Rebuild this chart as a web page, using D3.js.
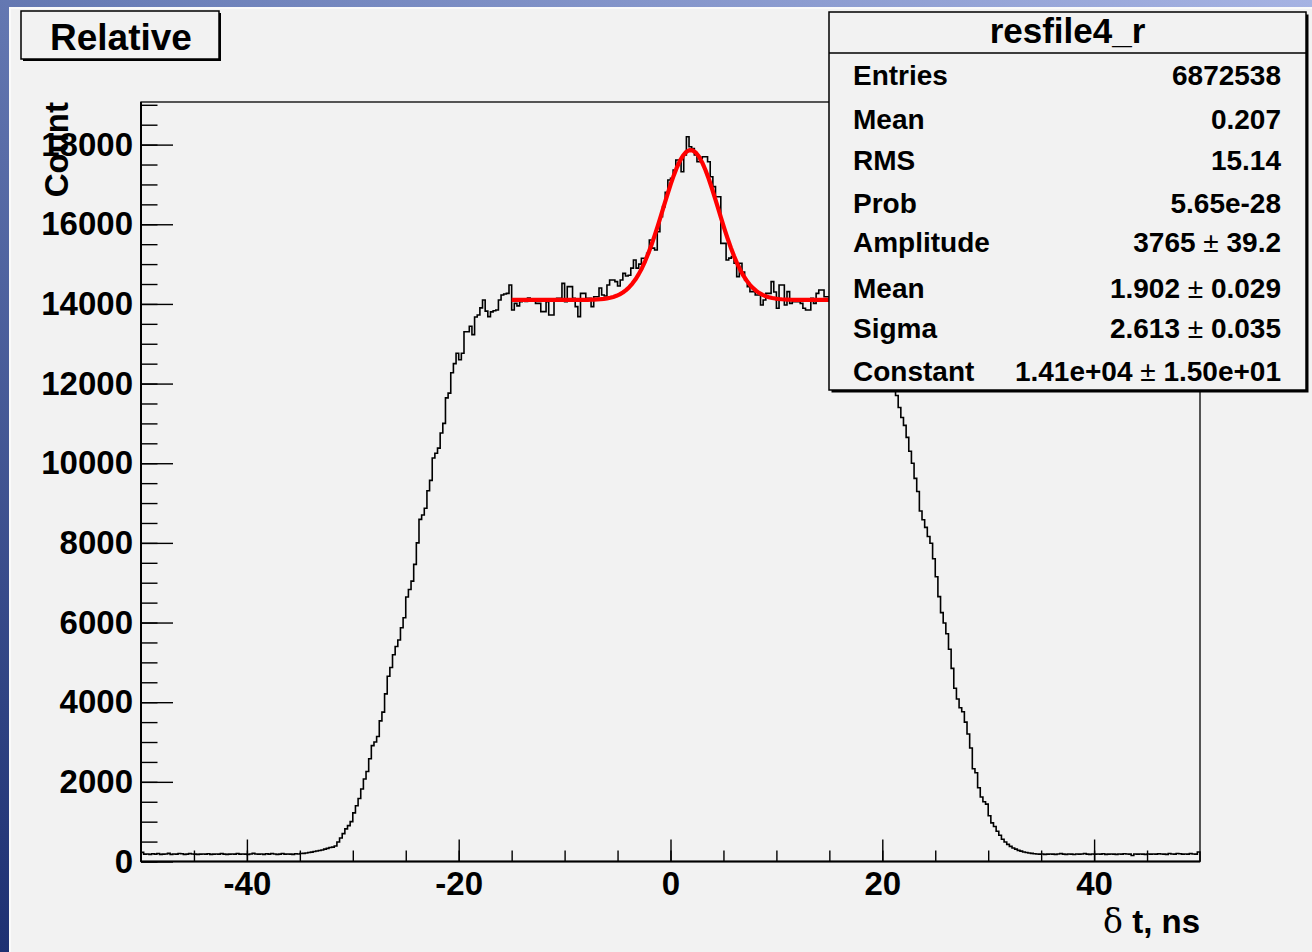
<!DOCTYPE html>
<html><head><meta charset="utf-8">
<script src="https://cdn.jsdelivr.net/npm/d3@7"></script>
<style>
html,body{margin:0;padding:0;background:#fff;}
svg text{font-family:"Liberation Sans",Arial,Helvetica,sans-serif;}
</style></head>
<body>
<svg id="chart" width="1312" height="952"></svg>
<script>
// ---------------- data ----------------
const xDomain = [-50, 50];
const yAxisMax = 19070;
// histogram bin contents (400 bins of 0.25 ns from -50 to 50)
const baselineLeft = [
230,185,190,180,195,185,200,180,185,190,
205,180,190,185,200,195,180,185,200,190,
185,180,185,190,185,195,180,185,190,185,
200,185,180,185,190,185,200,185,190,185,
180,190,205,190,185,190,180,195,185,200,
190,180,185,200,185,190,185,180,195,190];
const risingEdge = [
200,205,215,225,235,250,265,275,290,310,
330,350,360,390,490,590,700,820,900,1000,
1220,1400,1580,1820,2070,2260,2580,2910,3000,3140,
3530,3750,4210,4650,4870,5190,5400,5560,5870,6120,
6640,6830,7040,7460,8000,8590,8700,8870,9310,9570,
10130,10250,10380,10760,11000,11640,11760,12270,12500,12760,
12600,12760,13300,13300,13440,13230,13670,13720];
const plateauPeak = [
13900,14099,13820,13680,13800,13830,13848,14099,14224,14250,
14266,14475,13848,14015,13950,14057,14120,14060,14150,14080,
14130,14015,14015,13806,13806,14057,13722,13722,14100,14140,
14140,14517,14057,14434,14434,14140,13931,13680,14266,14266,
14140,14140,13931,14180,14180,14400,14224,14200,14475,14600,
14600,14560,14450,14600,14768,14700,14720,14900,15103,14900,
15000,15145,15145,15270,15605,15400,15354,15814,16191,16442,
16800,17111,17153,17362,17613,17613,17320,17739,18199,17948,
17900,17739,17571,17655,17697,17697,17571,17195,16944,16692,
16692,15521,15521,15103,15150,15187,15020,14685,15020,14800,
14601,14434,14308,14308,14224,14224,13973,14099,14266,14266,
14559,14300,13890,14475,14475,13973,14308,14015,14057,14057,
14057,14015,13890,13848,13848,14141,14015,14266,14350,14350,14180,14180];
const hiddenShoulder = [
14100,14250,13950,14150,14050,14200,14000,14150,13900,14100,
13950,13900,13750,13700,13600,13450,13450,13300,13150,12950,
12800,12600,12400,12200,11950];
const fallingEdge = [
11700,11400,11150,10950,10650,10300,10000,9620,9290,8800,
8580,8390,8160,7990,7600,7150,6650,6250,5990,5720,
5330,4850,4350,4080,3860,3760,3500,3200,2850,2330,
2230,1850,1620,1500,1440,1150,970,880,760,660,
560,490,430,380,340,310,280,260,240,225,
215,205];
const baselineRight = [
195,190,185,190,180,185,190,185,180,190,
200,185,180,190,185,175,190,185,190,200,
185,180,190,185,190,185,195,180,185,190,
185,180,190,185,195,190,185,150,190,185,
190,185,180,190,185,190,185,195,190,185,
180,200,190,185,200,195,185,190,185,200,
190,185,240];

// fit (gaus + constant) parameters as printed in the stats box
const fitRange = [-15, 15];
const fitAmplitude = 3765, fitMean = 1.902, fitSigma = 2.613, fitConstant = 14100;

// axis ticks
const xMajorTicks = [-40, -20, 0, 20, 40];
const xMinorTicks = d3.range(-45, 50, 5);
const yMajorTicks = [0,2000,4000,6000,8000,10000,12000,14000,16000,18000];
const yMinorTicks = d3.range(0, 19001, 500);

// stats box
const statsTitle = "resfile4_r";
const statLabels = ["Entries","Mean","RMS","Prob","Amplitude","Mean","Sigma","Constant"];
const statValues = ["6872538","0.207","15.14","5.65e-28",["3765","39.2"],["1.902","0.029"],["2.613","0.035"],["1.41e+04","1.50e+01"]];

// ---------------- drawing ----------------
const counts = [].concat(baselineLeft, risingEdge, plateauPeak, hiddenShoulder, fallingEdge, baselineRight);
const svg = d3.select("#chart");
const W = 1312, H = 952;
const L = 141, R = 1200, T = 102, B = 861.5;

// slide background gradient
const defs = svg.append("defs");
const g1 = defs.append("linearGradient").attr("id","bg").attr("x1","1").attr("y1","0").attr("x2","0").attr("y2","1");
g1.append("stop").attr("offset","0").attr("stop-color","#a6b3e3");
g1.append("stop").attr("offset","0.45").attr("stop-color","#6b7fb8");
g1.append("stop").attr("offset","1").attr("stop-color","#1d3072");
svg.append("rect").attr("width",W).attr("height",H).attr("fill","url(#bg)");
svg.append("rect").attr("x",9).attr("y",7).attr("width",W-9).attr("height",H-7).attr("fill","#fafafa");
svg.append("rect").attr("x",11).attr("y",9).attr("width",W-11).attr("height",H-9).attr("fill","#f2f2f2");

const x = d3.scaleLinear().domain(xDomain).range([L, R]);
const y = d3.scaleLinear().domain([0, yAxisMax]).range([B, T]);

// frame
svg.append("rect").attr("x",L).attr("y",T).attr("width",R-L).attr("height",B-T)
  .attr("fill","none").attr("stroke","#000").attr("stroke-width",1.3);

// histogram
const bw = (xDomain[1]-xDomain[0]) / counts.length;
const pts = [[xDomain[0], 0]];
counts.forEach((c,i) => { const lo = xDomain[0]+i*bw; pts.push([lo, c]); pts.push([lo+bw, c]); });
pts.push([xDomain[1], 0]);
svg.append("path").attr("d", d3.line().x(d=>x(d[0])).y(d=>y(d[1]))(pts))
  .attr("fill","none").attr("stroke","#000").attr("stroke-width",1.6);

// fit curve
const fx = d3.range(fitRange[0], fitRange[1]+1e-9, 0.3);
const fitPts = fx.map(v => [v, fitAmplitude*Math.exp(-0.5*Math.pow((v-fitMean)/fitSigma,2)) + fitConstant]);
svg.append("path").attr("d", d3.line().x(d=>x(d[0])).y(d=>y(d[1]))(fitPts))
  .attr("fill","none").attr("stroke","#ff0000").attr("stroke-width",4.2).attr("stroke-linejoin","round");

// axes
const fontAxis = 33;
const fmt = d => String(d);
const yMinorAxis = svg.append("g").attr("transform",`translate(${L},0)`)
  .call(d3.axisLeft(y).tickValues(yMinorTicks).tickSize(-16.5).tickFormat(""));
const yMajorAxis = svg.append("g").attr("transform",`translate(${L},0)`)
  .call(d3.axisLeft(y).tickValues(yMajorTicks).tickSize(-32).tickPadding(8).tickFormat(fmt));
const xMinorAxis = svg.append("g").attr("transform",`translate(0,${B})`)
  .call(d3.axisBottom(x).tickValues(xMinorTicks).tickSize(-11).tickFormat(""));
const xMajorAxis = svg.append("g").attr("transform",`translate(0,${B})`)
  .call(d3.axisBottom(x).tickValues(xMajorTicks).tickSize(-22).tickPadding(10).tickFormat(fmt));
[yMinorAxis,yMajorAxis,xMinorAxis,xMajorAxis].forEach(a => {
  a.select(".domain").remove();
  a.selectAll("line").attr("stroke","#000").attr("stroke-width",1.4);
  a.selectAll("text").attr("fill","#000").attr("font-size",fontAxis).attr("font-weight","bold")
    .attr("font-family",'"Liberation Sans",Arial,sans-serif');
});
svg.append("line").attr("x1",L).attr("x2",L).attr("y1",T).attr("y2",B).attr("stroke","#000").attr("stroke-width",2);
svg.append("line").attr("x1",L).attr("x2",R).attr("y1",B).attr("y2",B).attr("stroke","#000").attr("stroke-width",2);

// axis titles
const xt = svg.append("text").attr("x",R).attr("y",933).attr("text-anchor","end")
  .attr("font-size",fontAxis).attr("font-weight","bold").attr("fill","#000");
xt.append("tspan").attr("font-weight","normal").attr("font-family",'"DejaVu Serif","Liberation Serif",serif').text("δ");
xt.append("tspan").text(" t, ns");
svg.append("text").attr("transform",`translate(68,${T}) rotate(-90)`).attr("text-anchor","end")
  .attr("font-size",fontAxis).attr("font-weight","bold").attr("fill","#000").text("Count");

// title box "Relative"
svg.append("rect").attr("x",23).attr("y",13).attr("width",198).attr("height",48).attr("fill","#000");
svg.append("rect").attr("x",21).attr("y",11).attr("width",198).attr("height",48)
  .attr("fill","#f2f2f2").attr("stroke","#000").attr("stroke-width",1.5);
svg.append("text").attr("x",121).attr("y",50).attr("text-anchor","middle")
  .attr("font-size",37).attr("font-weight","bold").attr("fill","#000").text("Relative");

// stats box
const sx0 = 829, sy0 = 12, sx1 = 1306, sy1 = 390;
svg.append("rect").attr("x",sx0+2.5).attr("y",sy0+2.5).attr("width",sx1-sx0).attr("height",sy1-sy0).attr("fill","#000");
svg.append("rect").attr("x",sx0).attr("y",sy0).attr("width",sx1-sx0).attr("height",sy1-sy0)
  .attr("fill","#f2f2f2").attr("stroke","#000").attr("stroke-width",1.5);
svg.append("line").attr("x1",sx0).attr("x2",sx1).attr("y1",53).attr("y2",53).attr("stroke","#000").attr("stroke-width",1.5);
svg.append("text").attr("x",(sx0+sx1)/2).attr("y",43).attr("text-anchor","middle")
  .attr("font-size",35).attr("font-weight","bold").attr("fill","#000").text(statsTitle);
const rowBase = [85,129,170,213,252,298,338,381];
statLabels.forEach((lab,i) => {
  svg.append("text").attr("x",853).attr("y",rowBase[i]).attr("font-size",28).attr("font-weight","bold")
    .attr("fill","#000").text(lab);
  const t = svg.append("text").attr("x",1281).attr("y",rowBase[i]).attr("text-anchor","end")
    .attr("font-size",28).attr("font-weight","bold").attr("fill","#000");
  const v = statValues[i];
  if (Array.isArray(v)) {
    t.append("tspan").text(v[0]);
    t.append("tspan").attr("font-weight","normal").text(" ± ");
    t.append("tspan").text(v[1]);
  } else t.text(v);
});
</script>
</body></html>
